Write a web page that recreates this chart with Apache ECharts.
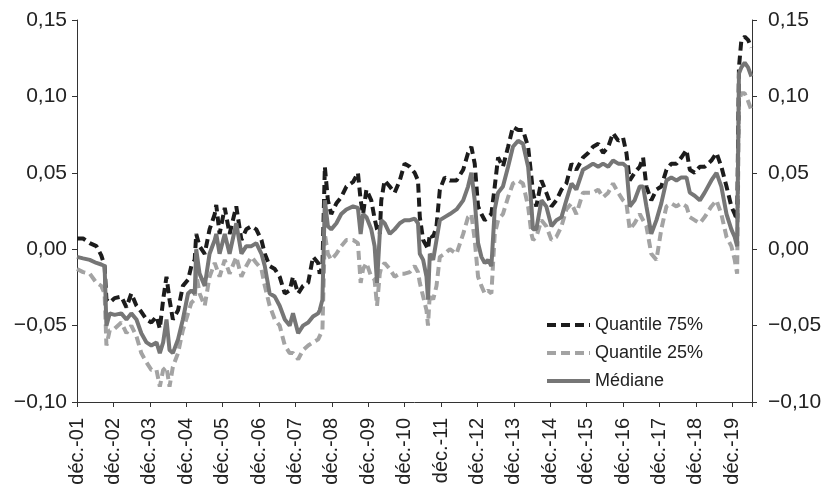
<!DOCTYPE html>
<html><head><meta charset="utf-8">
<script src="https://cdn.jsdelivr.net/npm/echarts@6/dist/echarts.min.js"></script>
<style>html,body{margin:0;padding:0;background:#fff}#c{width:831px;height:488px}</style>
</head><body><div id="c"></div>
<script>
// time in months since December 2001
const months = [0,2.0,4.2,6.4,8.0,9.1,9.7,10.8,12.4,14.6,16.3,17.9,19.6,21.2,22.9,24.5,26.2,27.3,28.4,29.5,30.5,31.6,33.3,34.9,36.6,37.7,38.8,39.3,40.4,42.1,43.7,45.4,45.9,47.0,48.7,50.3,52.5,54.2,55.8,57.5,59.1,60.8,61.9,63.5,65.2,66.8,68.5,70.1,71.2,72.9,74.5,76.2,77.8,79.5,
80.0,80.9,81.7,82.7,83.8,85.5,87.1,88.8,91.0,92.6,93.5,94.3,95.4,97.0,98.1,98.9,99.8,100.3,101.4,103.1,104.7,106.4,108.0,109.7,111.3,112.4,113.0,114.1,115.2,115.7,116.3,117.4,118.5,119.6,121.2,122.9,125.1,127.3,128.9,130.0,131.1,132.2,133.3,134.4,135.5,136.6,137.7,138.8,140.4,142.1,143.7,145.4,147.0,148.7,149.8,
150.3,151.4,153.1,154.7,156.4,158.0,159.7,161.3,163.0,164.6,166.8,168.5,170.1,171.8,173.4,175.1,176.7,178.4,180.0,181.1,182.2,183.8,185.5,186.6,187.7,189.3,191.0,192.6,194.3,195.9,197.6,199.2,200.9,202.0,203.6,205.3,206.9,209.1,210.8,212.4,214.1,215.7,216.8,217.6,218.2,219.0,220.1,221.2,222.3];

const q75 = [0.007,0.007,0.004,0.002,-0.004,-0.011,-0.033,-0.035,-0.032,-0.031,-0.038,-0.029,-0.037,-0.041,-0.046,-0.048,-0.044,-0.052,-0.033,-0.018,-0.033,-0.046,-0.040,-0.024,-0.020,-0.011,-0.007,0.010,0.002,-0.003,0.013,0.023,0.029,0.010,0.027,0.010,0.028,0.006,0.013,0.015,0.013,0.006,-0.003,-0.011,-0.013,-0.018,-0.029,-0.027,-0.018,-0.029,-0.024,-0.022,-0.005,-0.009,
-0.016,-0.011,0.054,0.032,0.023,0.030,0.034,0.041,0.044,0.050,0.032,0.023,0.039,0.032,0.020,0.013,0.010,0.032,0.045,0.041,0.037,0.045,0.056,0.054,0.050,0.045,0.021,0.006,0.002,0.000,0.010,0.008,0.015,0.039,0.047,0.045,0.045,0.052,0.063,0.067,0.056,0.028,0.023,0.019,0.021,0.023,0.041,0.060,0.054,0.067,0.080,0.078,0.078,0.067,0.047,
0.037,0.028,0.045,0.037,0.028,0.032,0.039,0.043,0.056,0.052,0.060,0.063,0.067,0.069,0.063,0.067,0.076,0.071,0.073,0.063,0.045,0.050,0.054,0.060,0.041,0.032,0.039,0.041,0.052,0.056,0.056,0.060,0.065,0.052,0.050,0.054,0.054,0.058,0.063,0.054,0.041,0.028,0.023,0.019,0.119,0.137,0.139,0.137,0.132];

const q25 = [-0.013,-0.015,-0.016,-0.022,-0.024,-0.029,-0.063,-0.053,-0.052,-0.048,-0.055,-0.050,-0.057,-0.068,-0.074,-0.079,-0.079,-0.090,-0.079,-0.077,-0.090,-0.077,-0.068,-0.053,-0.042,-0.035,-0.033,-0.016,-0.029,-0.037,-0.018,-0.009,-0.009,-0.018,-0.007,-0.016,-0.005,-0.018,-0.011,-0.005,-0.009,-0.013,-0.024,-0.037,-0.046,-0.050,-0.063,-0.068,-0.068,-0.072,-0.066,-0.063,-0.061,-0.059,
-0.059,-0.053,0.010,-0.003,-0.007,-0.003,0.002,0.006,0.006,0.004,-0.022,-0.013,-0.009,-0.018,-0.020,-0.037,-0.016,-0.012,-0.009,-0.013,-0.018,-0.016,-0.016,-0.015,-0.011,-0.015,-0.022,-0.031,-0.040,-0.050,-0.029,-0.033,-0.024,-0.005,-0.003,0.000,-0.003,0.010,0.021,0.023,0.006,-0.018,-0.024,-0.029,-0.027,-0.029,0.010,0.019,0.023,0.034,0.043,0.045,0.043,0.028,0.010,
0.006,0.008,0.019,0.015,0.006,0.008,0.015,0.026,0.030,0.023,0.037,0.037,0.037,0.039,0.034,0.037,0.043,0.037,0.032,0.030,0.013,0.017,0.023,0.019,0.015,-0.003,-0.007,0.013,0.028,0.030,0.028,0.030,0.028,0.021,0.019,0.017,0.021,0.028,0.032,0.023,0.008,0.002,-0.007,-0.016,0.097,0.102,0.102,0.097,0.091];

const med = [-0.005,-0.006,-0.007,-0.009,-0.010,-0.011,-0.050,-0.042,-0.043,-0.042,-0.046,-0.042,-0.046,-0.055,-0.061,-0.063,-0.061,-0.068,-0.061,-0.046,-0.066,-0.068,-0.059,-0.046,-0.029,-0.027,-0.029,0.000,-0.016,-0.024,-0.003,0.006,0.010,-0.003,0.010,-0.003,0.017,-0.003,0.002,0.002,0.004,-0.003,-0.011,-0.029,-0.031,-0.037,-0.046,-0.050,-0.042,-0.055,-0.050,-0.048,-0.044,-0.042,
-0.040,-0.033,0.032,0.015,0.013,0.017,0.023,0.026,0.028,0.027,0.010,0.023,0.021,0.013,0.002,-0.022,0.010,0.019,0.017,0.010,0.013,0.017,0.019,0.019,0.020,0.017,-0.003,-0.007,-0.018,-0.033,-0.003,-0.007,0.006,0.019,0.021,0.023,0.026,0.032,0.041,0.050,0.032,0.004,-0.005,-0.009,-0.007,-0.011,0.026,0.037,0.041,0.054,0.067,0.071,0.069,0.054,0.028,
0.013,0.013,0.032,0.028,0.015,0.019,0.021,0.032,0.043,0.039,0.052,0.054,0.056,0.054,0.056,0.054,0.058,0.056,0.056,0.054,0.028,0.032,0.041,0.041,0.028,0.010,0.019,0.030,0.045,0.047,0.045,0.047,0.047,0.037,0.035,0.032,0.037,0.045,0.050,0.041,0.023,0.013,0.008,0.002,0.115,0.119,0.122,0.119,0.113];

const seriesNames = ['Quantile 75%', 'Quantile 25%', 'Médiane'];
const xLabelPrefix = 'déc.-';
const firstYear = 1;      // déc.-01
const xEnd = 222.5;       // end of data window, months after déc.-01
const yMin = -0.10, yMax = 0.15, yStep = 0.05;

const FONT = '"Liberation Sans", Arial, sans-serif';
const AX = '#333';
const TXT = '#222';

function yFmt(v) {
  const r = Math.round(v * 100);
  const s = (Math.abs(r) / 100).toFixed(2).replace('.', ',');
  return r < 0 ? '\u2212' + s : s;
}
function xFmt(v) {
  const r = Math.round(v * 1000) / 1000;
  if (r % 12 !== 0) return '';
  return xLabelPrefix + String(firstYear + r / 12).padStart(2, '0');
}
const pairs = arr => months.map((m, i) => [m, arr[i]]);

function yAxis(pos, margin) {
  return {
    type: 'value', position: pos, min: yMin, max: yMax, interval: yStep,
    axisLine: { show: true, lineStyle: { color: AX, width: 1 } },
    axisTick: { show: true, length: 5, lineStyle: { color: AX } },
    splitLine: { show: false },
    axisLabel: { formatter: yFmt, color: TXT, fontSize: 21, fontFamily: FONT, margin: margin }
  };
}

const chart = echarts.init(document.getElementById('c'), null, { renderer: 'canvas' });
chart.setOption({
  animation: false,
  backgroundColor: '#fff',
  grid: { left: 77, right: 79, top: 20, bottom: 86, containLabel: false },
  xAxis: {
    type: 'value', min: 0, max: xEnd, interval: 12,
    axisLine: { show: true, onZero: false, lineStyle: { color: AX, width: 1 } },
    axisTick: { show: true, length: 5, lineStyle: { color: AX } },
    splitLine: { show: false },
    axisLabel: { formatter: xFmt, rotate: 90, color: TXT, fontSize: 20, fontFamily: FONT, margin: 16, showMaxLabel: true, hideOverlap: false }
  },
  yAxis: [yAxis('left', 10), yAxis('right', 16)],
  legend: {
    orient: 'vertical', left: 540, top: 311,
    itemWidth: 43, itemHeight: 18, itemGap: 10,
    data: seriesNames,
    itemStyle: { opacity: 0 },
    lineStyle: { width: 4 },
    textStyle: { color: TXT, fontSize: 18, fontFamily: FONT, padding: [0, 0, 0, 0] }
  },
  series: [
    { name: seriesNames[0], type: 'line', data: pairs(q75), symbol: 'none', showSymbol: false,
      lineStyle: { color: '#1c1c1c', width: 4, type: [9, 5] }, itemStyle: { color: '#1c1c1c' }, z: 3 },
    { name: seriesNames[1], type: 'line', data: pairs(q25), symbol: 'none', showSymbol: false,
      lineStyle: { color: '#a3a3a3', width: 4, type: [9, 5] }, itemStyle: { color: '#a3a3a3' }, z: 2 },
    { name: seriesNames[2], type: 'line', data: pairs(med), symbol: 'none', showSymbol: false,
      lineStyle: { color: '#767676', width: 4 }, itemStyle: { color: '#767676' }, z: 4 }
  ]
});
</script></body></html>
